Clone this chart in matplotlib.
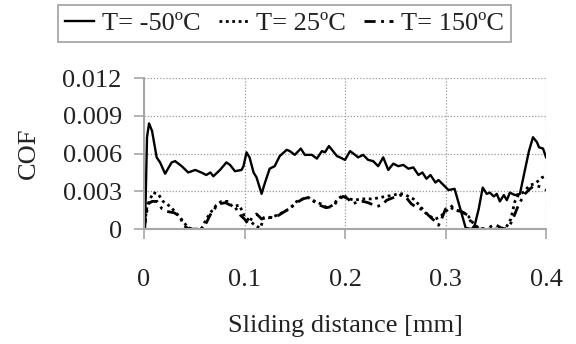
import matplotlib
matplotlib.use("Agg")
import matplotlib.pyplot as plt

# ---------------------------------------------------------------------
# DATA
# ---------------------------------------------------------------------
X_TICKS = [0, 0.1, 0.2, 0.3, 0.4]
X_TICK_LABELS = ["0", "0.1", "0.2", "0.3", "0.4"]
Y_TICKS = [0, 0.003, 0.006, 0.009, 0.012]
Y_TICK_LABELS = ["0", "0.003", "0.006", "0.009", "0.012"]

# T = -50 C
x_cold = [0.001, 0.003, 0.005, 0.008, 0.0126, 0.016, 0.021, 0.0275, 0.031, 0.0375,
          0.044, 0.051, 0.057, 0.062, 0.066, 0.069, 0.0756, 0.082, 0.0856, 0.0905,
          0.097, 0.099, 0.102, 0.105, 0.109, 0.112, 0.117, 0.120, 0.125, 0.130,
          0.135, 0.142, 0.145, 0.150, 0.156, 0.160, 0.167, 0.172, 0.177, 0.180,
          0.184, 0.188, 0.192, 0.195, 0.200, 0.205, 0.210, 0.213, 0.218, 0.223,
          0.228, 0.233, 0.238, 0.243, 0.248, 0.253, 0.258, 0.263, 0.268, 0.273,
          0.277, 0.281, 0.285, 0.290, 0.293, 0.298, 0.303, 0.309, 0.314, 0.320,
          0.326, 0.329, 0.333, 0.337, 0.341, 0.344, 0.348, 0.351, 0.354, 0.358,
          0.361, 0.364, 0.369, 0.374, 0.379, 0.383, 0.387, 0.391, 0.393, 0.397,
          0.400]
y_cold = [0.0, 0.0073, 0.0084, 0.0078, 0.0057, 0.0053, 0.0044, 0.0053, 0.0054, 0.0050,
          0.0045, 0.0047, 0.0045, 0.0043, 0.0045, 0.0042, 0.0047, 0.0053, 0.0051, 0.0046,
          0.0047, 0.0050, 0.0061, 0.0057, 0.0045, 0.0041, 0.0028, 0.0036, 0.0048, 0.0050,
          0.0058, 0.0063, 0.0062, 0.0059, 0.0064, 0.0059, 0.0059, 0.0056, 0.0062, 0.0061,
          0.0066, 0.0062, 0.0058, 0.0057, 0.0055, 0.0062, 0.0059, 0.0057, 0.0059, 0.0055,
          0.0054, 0.0050, 0.0057, 0.0047, 0.0052, 0.0050, 0.0051, 0.0048, 0.0049, 0.0043,
          0.0045, 0.0040, 0.0043, 0.0037, 0.0039, 0.0035, 0.0031, 0.0032, 0.0018, 0.0001,
          0.0, 0.0003, 0.0016, 0.0033, 0.0028, 0.0029, 0.0026, 0.0028, 0.0022, 0.0027,
          0.0023, 0.0029, 0.0027, 0.0028, 0.0047, 0.0062, 0.0073, 0.0069, 0.0065, 0.0064,
          0.0057]

# T = 25 C
x_room = [0.0, 0.003, 0.009, 0.014, 0.019, 0.026, 0.033, 0.039, 0.044, 0.050,
          0.057, 0.062, 0.067, 0.072, 0.077, 0.083, 0.088, 0.095, 0.100, 0.106,
          0.112, 0.116, 0.119, 0.124, 0.129, 0.135, 0.142, 0.147, 0.152, 0.158,
          0.164, 0.170, 0.176, 0.182, 0.188, 0.193, 0.198, 0.204, 0.210, 0.216,
          0.222, 0.228, 0.234, 0.241, 0.248, 0.253, 0.258, 0.263, 0.268, 0.274,
          0.280, 0.285, 0.290, 0.295, 0.300, 0.305, 0.311, 0.318, 0.323, 0.328,
          0.333, 0.340, 0.350, 0.360, 0.365, 0.369, 0.373, 0.377, 0.384, 0.389,
          0.396, 0.400]
y_room = [0.0, 0.0018, 0.0029, 0.0028, 0.0022, 0.0018, 0.0012, 0.0006, 0.0001, 0.0,
          0.0, 0.0008, 0.0014, 0.0019, 0.0022, 0.0022, 0.0018, 0.0019, 0.0010, 0.0006,
          0.0002, 0.0001, 0.0009, 0.0009, 0.0010, 0.0012, 0.0015, 0.0018, 0.0022, 0.0024,
          0.0025, 0.0022, 0.0020, 0.0017, 0.0019, 0.0024, 0.0027, 0.0024, 0.0023, 0.0024,
          0.0024, 0.0024, 0.0025, 0.0026, 0.0027, 0.0028, 0.0028, 0.0026, 0.0024, 0.0019,
          0.0013, 0.0010, 0.0008, 0.0010, 0.0014, 0.0017, 0.0015, 0.0013, 0.0010, 0.0004,
          0.0001, 0.0, 0.0, 0.0001, 0.0008, 0.0022, 0.0028, 0.0029, 0.0035, 0.0036,
          0.0041, 0.0042]

# T = 150 C
x_hot = [0.0, 0.004, 0.008, 0.013, 0.018, 0.023, 0.030, 0.036, 0.039, 0.045,
         0.052, 0.057, 0.062, 0.067, 0.074, 0.081, 0.086, 0.091, 0.096, 0.100,
         0.104, 0.108, 0.112, 0.117, 0.122, 0.128, 0.134, 0.140, 0.146, 0.152,
         0.158, 0.163, 0.169, 0.175, 0.181, 0.188, 0.193, 0.198, 0.203, 0.208,
         0.213, 0.218, 0.223, 0.2315, 0.2365, 0.2415, 0.248, 0.255, 0.261, 0.266,
         0.270, 0.278, 0.283, 0.287, 0.290, 0.293, 0.296, 0.300, 0.305, 0.310,
         0.316, 0.322, 0.327, 0.333, 0.341, 0.349, 0.355, 0.360, 0.364, 0.368,
         0.373, 0.379, 0.384, 0.389, 0.396, 0.400]
y_hot = [0.0, 0.0020, 0.0022, 0.0022, 0.0016, 0.0014, 0.0013, 0.0010, 0.0003, 0.0,
         0.0, 0.0, 0.0005, 0.0013, 0.0020, 0.0021, 0.0019, 0.0017, 0.0011, 0.0008,
         0.0004, 0.0010, 0.0012, 0.0008, 0.0010, 0.0009, 0.0011, 0.0014, 0.0017, 0.0021,
         0.0024, 0.0025, 0.0022, 0.0019, 0.0017, 0.0018, 0.0023, 0.0026, 0.0024, 0.0020,
         0.0022, 0.0022, 0.0021, 0.0018, 0.0019, 0.0023, 0.0025, 0.0027, 0.0025, 0.0020,
         0.0018, 0.0015, 0.0011, 0.0008, 0.0006, 0.0003, 0.0008, 0.0016, 0.0019, 0.0015,
         0.0014, 0.0011, 0.0003, 0.0, 0.0, 0.0004, 0.0001, 0.0, 0.0003, 0.0010,
         0.0020, 0.0028, 0.0032, 0.0035, 0.0033, 0.0031]

LABELS = ["T= -50ºC", "T= 25ºC", "T= 150ºC"]

# ---------------------------------------------------------------------
# PLOT
# ---------------------------------------------------------------------
plt.rcParams["font.family"] = ["Liberation Serif", "DejaVu Serif"]
FS = 19
GRAY = "#a6a6a6"

fig = plt.figure(figsize=(5.76, 3.44), dpi=100)
ax = fig.add_axes([0.25, 0.334, 0.698, 0.439])

ax.plot(x_cold, y_cold, color="black", lw=1.7, linestyle="-", label=LABELS[0])
ax.plot(x_room, y_room, color="black", lw=2.0, linestyle=(0, (1, 1.3)), label=LABELS[1])
ax.plot(x_hot, y_hot, color="black", lw=2.0, linestyle=(0, (4, 2, 1, 2)), label=LABELS[2])

ax.set_xlim(0, 0.4)
ax.set_ylim(0, 0.012)
ax.set_xticks(X_TICKS)
ax.set_xticklabels(X_TICK_LABELS)
ax.set_yticks(Y_TICKS)
ax.set_yticklabels(Y_TICK_LABELS)
ax.tick_params(axis="both", labelsize=FS, color=GRAY, length=7, width=1.2,
               direction="out", labelcolor="#222222")
ax.tick_params(axis="x", pad=22)
ax.tick_params(axis="y", pad=9)

ax.grid(True, color="#999999", linestyle=(0, (1, 1.5)), linewidth=0.9)
ax.set_axisbelow(True)
for side in ["top", "right"]:
    ax.spines[side].set_visible(False)
for side in ["left", "bottom"]:
    ax.spines[side].set_color(GRAY)
    ax.spines[side].set_linewidth(1.5)

ax.set_xlabel("Sliding distance [mm]", fontsize=FS, color="#222222", labelpad=17)
ax.set_ylabel("COF", fontsize=FS, color="#222222", labelpad=16)

leg = fig.legend(loc="upper center", bbox_to_anchor=(0.494, 0.985), ncol=3,
                 fontsize=FS, frameon=True, fancybox=False, handlelength=1.1,
                 handletextpad=0.3, columnspacing=0.7, borderpad=0.25,
                 borderaxespad=0)
leg.get_frame().set_edgecolor("#888888")
leg.get_frame().set_linewidth(1.2)
for t in leg.get_texts():
    t.set_color("#222222")

fig.savefig("out.png", dpi=100)
